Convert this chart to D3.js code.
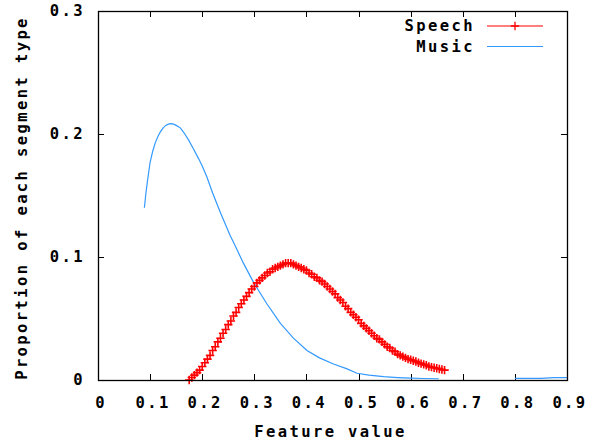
<!DOCTYPE html>
<html>
<head>
<meta charset="utf-8">
<script src="https://cdn.jsdelivr.net/npm/d3@7"></script>
<style>
  body { margin: 0; background: #fff; }
  text { font-family: "DejaVu Sans Mono", monospace; font-size: 15.5px; font-weight: bold; letter-spacing: 2.4px; fill: #000; }
</style>
</head>
<body>
<svg width="592" height="441"></svg>
<script>
// Speech series (plotted with + markers)
var speechX = [0.175, 0.180, 0.185, 0.190, 0.195, 0.200, 0.205, 0.210, 0.215, 0.220,
               0.225, 0.230, 0.235, 0.240, 0.245, 0.250, 0.255, 0.260, 0.265, 0.270,
               0.275, 0.280, 0.285, 0.290, 0.295, 0.300, 0.305, 0.310, 0.315, 0.320,
               0.325, 0.330, 0.335, 0.340, 0.345, 0.350, 0.355, 0.360, 0.365, 0.370,
               0.375, 0.380, 0.385, 0.390, 0.395, 0.400, 0.405, 0.410, 0.415, 0.420,
               0.425, 0.430, 0.435, 0.440, 0.445, 0.450, 0.455, 0.460, 0.465, 0.470,
               0.475, 0.480, 0.485, 0.490, 0.495, 0.500, 0.505, 0.510, 0.515, 0.520,
               0.525, 0.530, 0.535, 0.540, 0.545, 0.550, 0.555, 0.560, 0.565, 0.570,
               0.575, 0.580, 0.585, 0.590, 0.595, 0.600, 0.605, 0.610, 0.615, 0.620,
               0.625, 0.630, 0.635, 0.640, 0.645, 0.650, 0.655, 0.660, 0.665];
var speechY = [0.000, 0.002, 0.004, 0.006, 0.008, 0.011, 0.014, 0.017, 0.020, 0.024,
               0.027, 0.031, 0.034, 0.038, 0.041, 0.045, 0.048, 0.052, 0.055, 0.059,
               0.062, 0.065, 0.068, 0.071, 0.074, 0.076, 0.079, 0.081, 0.083, 0.085,
               0.087, 0.088, 0.090, 0.091, 0.092, 0.093, 0.094, 0.095, 0.095, 0.095,
               0.094, 0.093, 0.092, 0.091, 0.090, 0.089, 0.087, 0.086, 0.084, 0.083,
               0.081, 0.080, 0.078, 0.076, 0.074, 0.072, 0.070, 0.067, 0.065, 0.063,
               0.060, 0.058, 0.055, 0.053, 0.051, 0.049, 0.046, 0.044, 0.042, 0.040,
               0.038, 0.036, 0.034, 0.033, 0.031, 0.029, 0.027, 0.026, 0.024, 0.023,
               0.021, 0.020, 0.019, 0.018, 0.017, 0.0165, 0.0157, 0.015, 0.014, 0.0133,
               0.0127, 0.012, 0.011, 0.0105, 0.010, 0.0095, 0.009, 0.0085, 0.008];

// Music series (plain line, null = gap in the data)
var musicX = [0.089, 0.092, 0.095, 0.100, 0.105, 0.110, 0.115, 0.120, 0.125, 0.130,
              0.135, 0.140, 0.145, 0.150, 0.158, 0.165, 0.174, 0.183, 0.193, 0.200,
              0.209, 0.220, 0.235, 0.254, 0.260, 0.279, 0.299, 0.324, 0.350, 0.375,
              0.401, 0.425, 0.452, 0.478, 0.497, 0.520, 0.548, 0.575, 0.600, 0.625,
              0.654, 0.700, 0.800, 0.850, 0.875, 0.900];
var musicY = [0.140, 0.152, 0.162, 0.177, 0.186, 0.193, 0.198, 0.202, 0.205, 0.207,
              0.208, 0.2085, 0.208, 0.207, 0.205, 0.201, 0.195, 0.188, 0.180, 0.174,
              0.165, 0.152, 0.136, 0.117, 0.112, 0.095, 0.079, 0.062, 0.046, 0.034,
              0.024, 0.018, 0.013, 0.009, 0.0055, 0.004, 0.0027, 0.002, 0.0015, 0.0012,
              0.001, null, 0.0013, 0.0013, 0.002, 0.002];

var xTicks = [0, 0.1, 0.2, 0.3, 0.4, 0.5, 0.6, 0.7, 0.8, 0.9],
    yTicks = [0, 0.1, 0.2, 0.3];

var speechColor = "#ff0000",
    musicColor = "#3399ff";

var svg = d3.select("svg"),
    margin = {top: 11, right: 25, bottom: 61, left: 98},
    w = +svg.attr("width") - margin.left - margin.right,
    h = +svg.attr("height") - margin.top - margin.bottom;

var x = d3.scaleLinear().domain([0, 0.9]).range([0, w]),
    y = d3.scaleLinear().domain([0, 0.3]).range([h, 0]);

var fmt = function(d) { return d === 0 ? "0" : d3.format(".1f")(d); };

var g = svg.append("g")
    .attr("transform", "translate(" + margin.left + "," + margin.top + ")");

//Ticks on all four sides, pointing inward
var tickLen = 6;
g.selectAll(".xtick")
    .data(xTicks.slice(1, -1))
    .enter().append("path")
    .attr("d", function(d) {
      var px = Math.round(x(d)) + 0.5;
      return "M" + px + "," + h + "V" + (h - tickLen) + "M" + px + ",0V" + tickLen;
    })
    .attr("stroke", "#000");
g.selectAll(".ytick")
    .data(yTicks.slice(1, -1))
    .enter().append("path")
    .attr("d", function(d) {
      var py = Math.round(y(d)) + 0.5;
      return "M0," + py + "H" + tickLen + "M" + w + "," + py + "H" + (w - tickLen);
    })
    .attr("stroke", "#000");

//Tick labels
g.selectAll(".xlab")
    .data(xTicks)
    .enter().append("text")
    .attr("x", function(d) { return x(d) + 3; })
    .attr("y", h + 28)
    .attr("text-anchor", "middle")
    .text(fmt);
g.selectAll(".ylab")
    .data(yTicks)
    .enter().append("text")
    .attr("x", -13)
    .attr("y", function(d) { return y(d) + 5; })
    .attr("text-anchor", "end")
    .text(fmt);

//Axis titles
svg.append("text")
    .attr("x", margin.left + w / 2 - 2)
    .attr("y", 437)
    .attr("text-anchor", "middle")
    .text("Feature value");
svg.append("text")
    .attr("transform", "translate(27," + 198 + ") rotate(-90)")
    .attr("text-anchor", "middle")
    .text("Proportion of each segment type");

//Music line
var musicData = musicX.map(function(d, i) { return {x: d, y: musicY[i]}; });
var musicLine = d3.line()
    .defined(function(d) { return d.y !== null; })
    .x(function(d) { return x(d.x); })
    .y(function(d) { return y(d.y); });
g.append("path")
    .datum(musicData)
    .attr("fill", "none")
    .attr("stroke", musicColor)
    .attr("stroke-width", 1.2)
    .attr("d", musicLine);

//Speech + markers
var speechData = speechX.map(function(d, i) { return {x: d, y: speechY[i]}; });
function plus(s) { return "M" + (-s) + ",0H" + s + "M0," + (-s) + "V" + s; }
g.selectAll(".speech")
    .data(speechData)
    .enter().append("path")
    .attr("transform", function(d) { return "translate(" + x(d.x) + "," + y(d.y) + ")"; })
    .attr("d", plus(4.2))
    .attr("stroke", speechColor)
    .attr("stroke-width", 1.6)
    .attr("fill", "none");

//Border
g.append("rect")
    .attr("x", 0.5).attr("y", 0.5)
    .attr("width", w).attr("height", h)
    .attr("fill", "none")
    .attr("stroke", "#000")
    .attr("stroke-width", 1.3);

//Legend
var legend = svg.append("g");
var items = [{name: "Speech", color: speechColor, marker: true},
             {name: "Music", color: musicColor, marker: false}];
items.forEach(function(it, i) {
  var ly = 26 + i * 20.5;
  legend.append("text")
      .attr("x", 475)
      .attr("y", ly + 5)
      .attr("text-anchor", "end")
      .text(it.name);
  legend.append("line")
      .attr("x1", 487).attr("x2", 543)
      .attr("y1", ly).attr("y2", ly)
      .attr("stroke", it.color)
      .attr("stroke-width", 1.2);
  if (it.marker) {
    legend.append("path")
        .attr("transform", "translate(515," + ly + ")")
        .attr("d", plus(4.2))
        .attr("stroke", it.color)
        .attr("stroke-width", 1.3);
  }
});
</script>
</body>
</html>
